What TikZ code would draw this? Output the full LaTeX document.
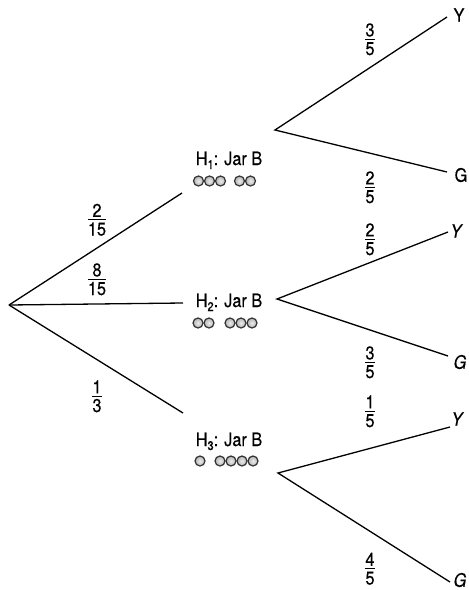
\documentclass[tikz,border=0pt]{standalone}
\usepackage{fontspec}
\setmainfont[FakeStretch=0.88, FakeBold=0.4]{TeX Gyre Heros}
\setlength\arrayrulewidth{1.1pt}
% stacked fraction with a rule between numerator and denominator
\newcommand\frc[2]{\begin{tabular}{@{}c@{}}#1\\[-4pt]\hline\noalign{\vskip 0.5pt}#2\end{tabular}}
% hypothesis label with a lowered index
\newcommand\hyp[1]{H\raisebox{-4pt}{\fontsize{12.5}{12.5}\selectfont #1}: Jar B}
\begin{document}
\begin{tikzpicture}[x=1pt, y=-1pt,
  every node/.style={font=\fontsize{18.5}{21}\selectfont, inner sep=0pt},
  branch/.style={draw=black, line width=1.3pt},
  ball/.style={draw=black!80, line width=1.2pt, inner color=gray!15, outer color=gray!60}]
\useasboundingbox (0,0) rectangle (469,590);

% points of the tree
\coordinate (root) at (9,305);
\coordinate (h1) at (182,193);
\coordinate (h2) at (183,303);
\coordinate (h3) at (183,413);
\coordinate (f1) at (275,130);
\coordinate (f2) at (277,299);
\coordinate (f3) at (278,473);
\coordinate (y1) at (447,17);
\coordinate (g1) at (447,172);
\coordinate (y2) at (448,232);
\coordinate (g2) at (448,356);
\coordinate (y3) at (450,427);
\coordinate (g3) at (450,582);

% first stage: choice of jar
\draw[branch] (root) -- (h1);
\draw[branch] (root) -- (h2);
\draw[branch] (root) -- (h3);

% second stage: colour of the drawn ball
\draw[branch] (y1) -- (f1) -- (g1);
\draw[branch] (y2) -- (f2) -- (g2);
\draw[branch] (y3) -- (f3) -- (g3);

% hypothesis labels
\node[anchor=base] (H1) at (229,165) {\hyp{1}};
\node[anchor=base] (H2) at (229,307) {\hyp{2}};
\node[anchor=base] (H3) at (229,446) {\hyp{3}};

% balls in each jar
\foreach \x in {198.5,209.5,220.5,239.5,250.5} \path[ball] (\x,181) circle (5);
\foreach \x in {198,209,230,241,252} \path[ball] (\x,323) circle (5);
\foreach \x in {200,220,231,242,253} \path[ball] (\x,461) circle (5);

% first-stage probabilities
\node (p1) at (97,222) {\frc{2}{15}};
\node (p2) at (97,281.5) {\frc{8}{15}};
\node (p3) at (97,398.5) {\frc{1}{3}};

% second-stage probabilities
\node (q1y) at (370,41.5) {\frc{3}{5}};
\node (q1g) at (370,189.5) {\frc{2}{5}};
\node (q2y) at (370,241.5) {\frc{2}{5}};
\node (q2g) at (370,364.5) {\frc{3}{5}};
\node (q3y) at (370,413.5) {\frc{1}{5}};
\node (q3g) at (370,571) {\frc{4}{5}};

% outcomes
\node (Y1) at (459,15) {Y};
\node (G1) at (461,175) {G};
\node (Y2) at (456,231) {\itshape Y};
\node (G2) at (460,362) {\itshape G};
\node (Y3) at (457,419) {\itshape Y};
\node (G3) at (460,580) {\itshape G};
\end{tikzpicture}
\end{document}
